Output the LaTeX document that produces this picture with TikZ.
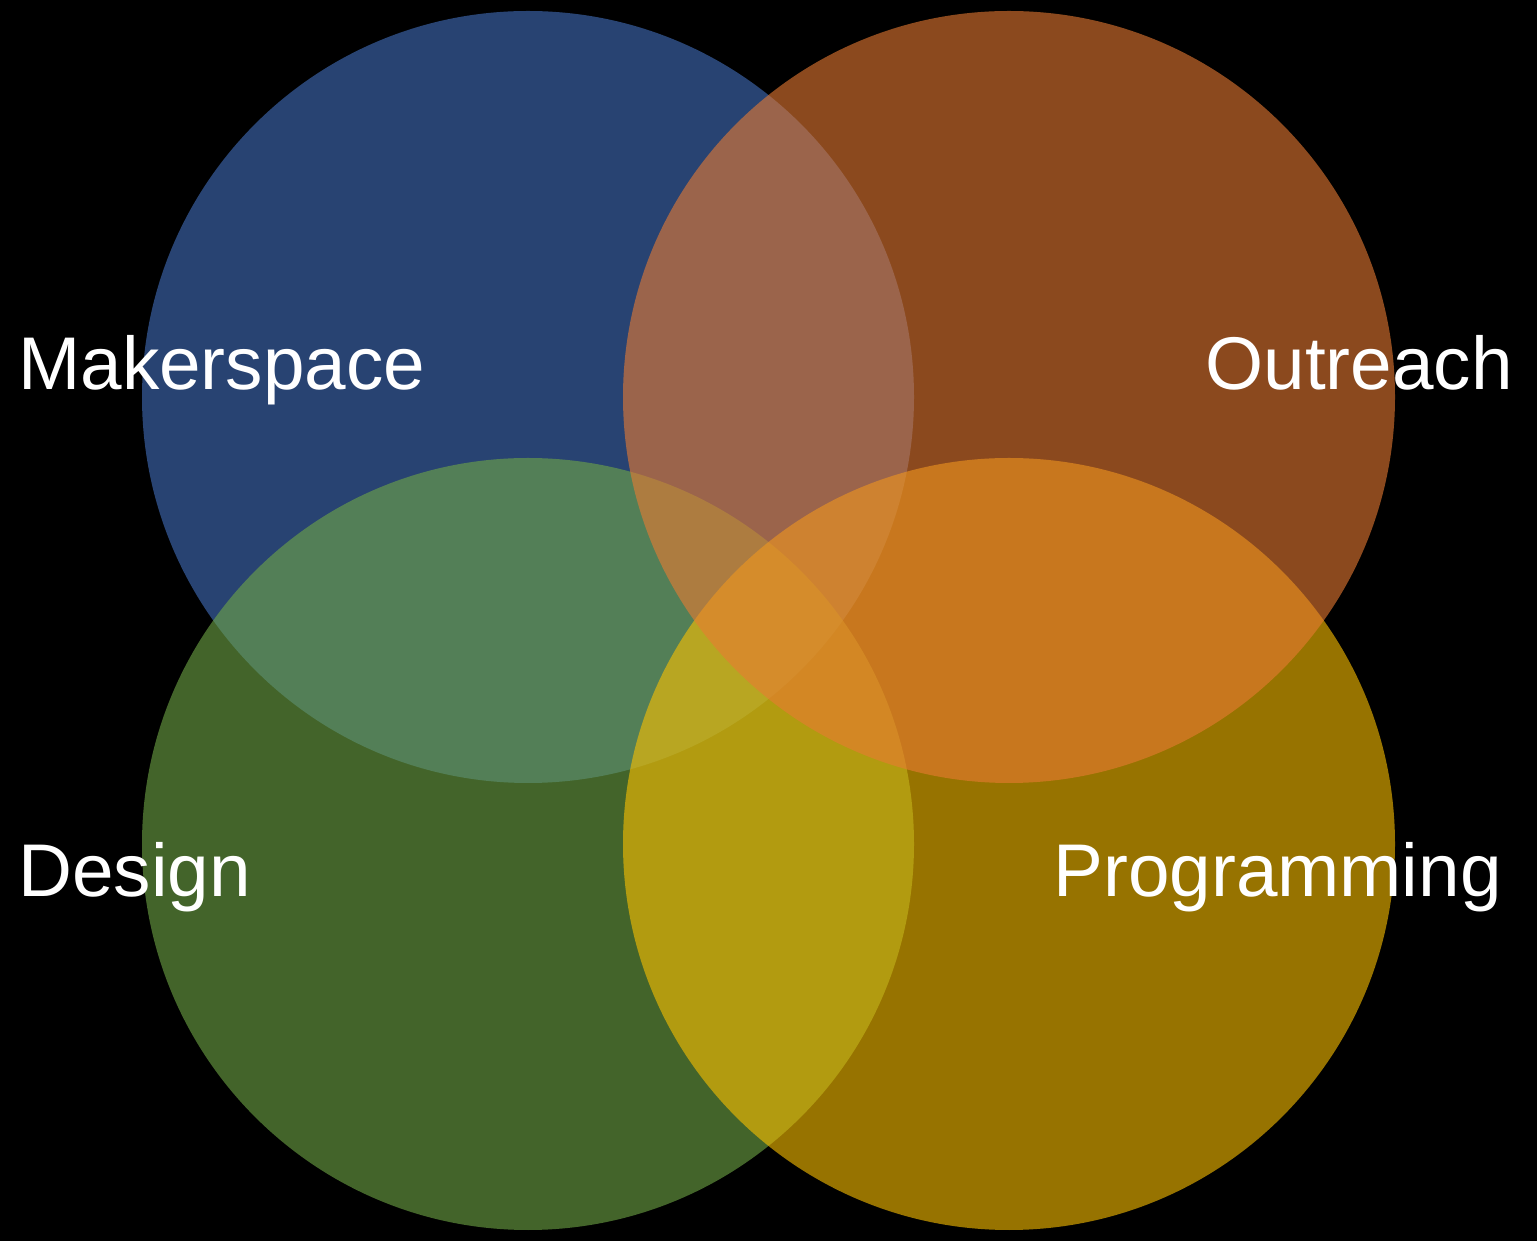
\documentclass[tikz,border=0pt]{standalone}
\usepackage{fontspec}
\setmainfont{Liberation Sans}
\tikzset{
  venn_circle/.style={fill=#1,fill opacity=0.6,draw=none},
  venn_label/.style={text=white,inner sep=0pt,font=\fontsize{42.5}{50}\selectfont}
}
\begin{document}
\begin{tikzpicture}
\definecolor{venn_blue}{RGB}{67,113,190}
\definecolor{venn_green}{RGB}{112,168,70}
\definecolor{venn_gold}{RGB}{252,192,0}
\definecolor{venn_orange}{RGB}{233,123,50}
\fill[black] (0,0) rectangle (30.74,24.82);
\useasboundingbox (0,0) rectangle (30.74,24.82);
\fill[venn_circle=venn_blue] (10.56,16.88) circle (7.72);
\fill[venn_circle=venn_green] (10.56,7.94) circle (7.72);
\fill[venn_circle=venn_gold] (20.18,7.94) circle (7.72);
\fill[venn_circle=venn_orange] (20.18,16.88) circle (7.72);
\node[venn_label,anchor=base west] (makerspace) at (0.36,17.02) {Makerspace};
\node[venn_label,anchor=base east] (outreach) at (30.26,17.02) {Outreach};
\node[venn_label,anchor=base west] (design) at (0.36,6.88) {Design};
\node[venn_label,anchor=base east] (programming) at (30.04,6.88) {Programming};
\end{tikzpicture}
\end{document}
